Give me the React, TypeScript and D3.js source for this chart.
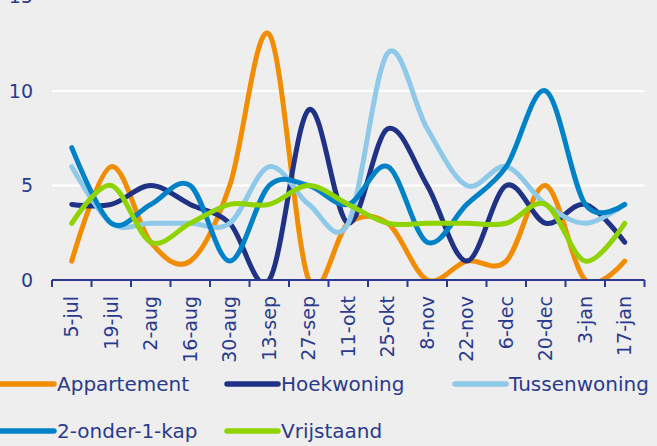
import { useEffect, useRef } from 'react';
import * as d3 from 'd3';

const categories = ['5-jul', '19-jul', '2-aug', '16-aug', '30-aug', '13-sep', '27-sep', '11-okt', '25-okt', '8-nov', '22-nov', '6-dec', '20-dec', '3-jan', '17-jan'];

const appartement = [1, 6, 2, 1, 5, 13, 0, 3, 3, 0, 1, 1, 5, 0, 1];
const hoekwoning = [4, 4, 5, 4, 3, 0, 9, 3, 8, 5, 1, 5, 3, 4, 2];
const tussenwoning = [6, 3, 3, 3, 3, 6, 4, 3, 12, 8, 5, 6, 4, 3, 4];
const tweeOnderEenKap = [7, 3, 4, 5, 1, 5, 5, 4, 6, 2, 4, 6, 10, 4, 4];
const vrijstaand = [3, 5, 2, 3, 4, 4, 5, 4, 3, 3, 3, 3, 4, 1, 3];

const yTicks = [0, 5, 10, 15];

const seriesNames = ['Appartement', 'Hoekwoning', 'Tussenwoning', '2-onder-1-kap', 'Vrijstaand'];
const seriesValues = [appartement, hoekwoning, tussenwoning, tweeOnderEenKap, vrijstaand];
const seriesColors = ['#F28C00', '#1F3286', '#8FC9EA', '#0082C9', '#8FD400'];

const WIDTH = 657;
const HEIGHT = 446;
const TEXT = '#2B3A8F';
const FONT = '"DejaVu Sans", sans-serif';

export default function App() {
  const svgRef = useRef<SVGSVGElement>(null);

  useEffect(() => {
    if (!svgRef.current) return;
    const svg = d3.select(svgRef.current);
    svg.selectAll('*').remove();

    const left = 52;
    const right = 644.5;
    const bottom = 280;

    const x = d3.scaleBand<string>().domain(categories).range([left, right]).padding(0);
    const y = d3.scaleLinear().domain([0, 15]).range([bottom, bottom - 15 * 18.9]);

    svg.append('rect')
      .attr('width', WIDTH)
      .attr('height', HEIGHT)
      .attr('fill', '#EEEEEE');

    // grid lines
    svg.append('g')
      .selectAll('line')
      .data(yTicks.filter(d => d > 0))
      .join('line')
      .attr('x1', left)
      .attr('x2', right)
      .attr('y1', d => y(d))
      .attr('y2', d => y(d))
      .attr('stroke', '#FFFFFF')
      .attr('stroke-width', 2);

    // y labels (15 sits partly above the picture, as in the original crop)
    svg.append('g')
      .selectAll('text')
      .data(yTicks)
      .join('text')
      .attr('x', 33)
      .attr('y', d => y(d))
      .attr('dy', '0.35em')
      .attr('text-anchor', 'end')
      .style('font-family', FONT)
      .style('font-size', '19px')
      .style('fill', TEXT)
      .text(d => d);

    // clip for the smoothed lines
    svg.append('defs')
      .append('clipPath')
      .attr('id', 'plot-clip')
      .append('rect')
      .attr('x', left - 10)
      .attr('y', -20)
      .attr('width', right - left + 20)
      .attr('height', bottom + 20);

    const line = d3.line<number>()
      .x((_, i) => (x(categories[i]) || 0) + x.bandwidth() / 2)
      .y(d => y(d))
      .curve(d3.curveCardinal.tension(0));

    const lines = svg.append('g').attr('clip-path', 'url(#plot-clip)');
    seriesValues.forEach((values, i) => {
      lines.append('path')
        .datum(values)
        .attr('fill', 'none')
        .attr('stroke', seriesColors[i])
        .attr('stroke-width', 5)
        .attr('stroke-linecap', 'round')
        .attr('stroke-linejoin', 'round')
        .attr('d', line);
    });

    // x axis
    const axis = svg.append('g')
      .attr('transform', `translate(0,${bottom})`)
      .call(d3.axisBottom(x).tickSize(0).tickFormat(() => ''));
    axis.select('.domain').remove();

    axis.append('line')
      .attr('x1', left)
      .attr('x2', right)
      .attr('stroke', TEXT)
      .attr('stroke-width', 2);

    axis.selectAll('.boundary')
      .data([...categories.map(c => x(c) || 0), right])
      .join('line')
      .attr('class', 'boundary')
      .attr('x1', d => d)
      .attr('x2', d => d)
      .attr('y1', 0)
      .attr('y2', 7)
      .attr('stroke', TEXT)
      .attr('stroke-width', 2);

    axis.selectAll('.cat-label')
      .data(categories)
      .join('text')
      .attr('class', 'cat-label')
      .attr('transform', d => `translate(${(x(d) || 0) + x.bandwidth() / 2},${16}) rotate(-90)`)
      .attr('dy', '0.35em')
      .attr('text-anchor', 'end')
      .style('font-family', FONT)
      .style('font-size', '19px')
      .style('fill', TEXT)
      .text(d => d);

    // legend
    const legendPos = [
      { x: 0, y: 384 },
      { x: 224, y: 384 },
      { x: 452, y: 384 },
      { x: 0, y: 431 },
      { x: 224, y: 431 },
    ];

    const legend = svg.append('g');
    seriesNames.forEach((name, i) => {
      const pos = legendPos[i];
      const item = legend.append('g').attr('transform', `translate(${pos.x},${pos.y})`);
      item.append('line')
        .attr('x1', pos.x === 0 ? -10 : 3)
        .attr('x2', 54)
        .attr('stroke', seriesColors[i])
        .attr('stroke-width', 5.5)
        .attr('stroke-linecap', 'round');
      item.append('text')
        .attr('x', 57)
        .attr('dy', '0.35em')
        .style('font-family', FONT)
        .style('font-size', '20px')
        .style('fill', TEXT)
        .text(name);
    });
  }, []);

  return (
    <svg
      ref={svgRef}
      width={WIDTH}
      height={HEIGHT}
      style={{ position: 'absolute', left: 0, top: 0, display: 'block' }}
    />
  );
}
